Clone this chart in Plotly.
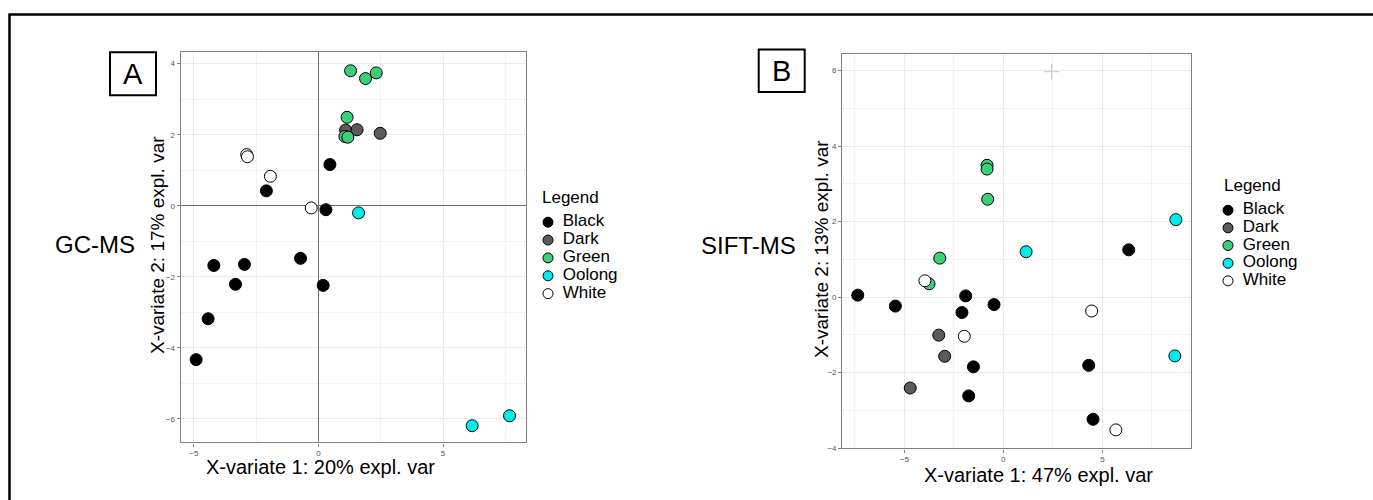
import plotly.graph_objects as go

W, H = 1373, 500

categories = ["Black", "Dark", "Green", "Oolong", "White"]
fill_colors = {"Black": "#000000", "Dark": "#5a5a5a", "Green": "#3ccf78",
               "Oolong": "#00eded", "White": "#ffffff"}

# Panel A: GC-MS
a_group = (["Green"] * 6 + ["Dark"] * 3 + ["White"] * 4 + ["Black"] * 10 + ["Oolong"] * 3)
a_x = [1.29, 1.89, 2.32, 1.15, 1.06, 1.18,
       1.09, 1.55, 2.48,
       -2.88, -2.85, -1.93, -0.29,
       -2.09, 0.46, 0.30, -4.20, -2.97, -3.33, -0.72, 0.19, -4.43, -4.91,
       1.61, 6.17, 7.67]
a_y = [3.80, 3.58, 3.74, 2.49, 1.95, 1.93,
       2.13, 2.14, 2.04,
       1.44, 1.38, 0.83, -0.06,
       0.42, 1.16, -0.11, -1.68, -1.65, -2.21, -1.48, -2.24, -3.18, -4.33,
       -0.20, -6.19, -5.91]

# Panel B: SIFT-MS
b_group = (["Black"] * 10 + ["Dark"] * 3 + ["Green"] * 5 + ["Oolong"] * 3 + ["White"] * 4)
b_x = [6.33, -7.35, -5.45, -1.90, -0.47, -2.09, -1.51, 4.31, -1.75, 4.53,
       -3.26, -2.96, -4.70,
       -0.82, -0.82, -0.79, -3.21, -3.75,
       8.71, 1.15, 8.66,
       -3.96, 4.46, -1.97, 5.68]
b_y = [1.25, 0.05, -0.24, 0.03, -0.20, -0.41, -1.85, -1.81, -2.62, -3.24,
       -1.01, -1.57, -2.41,
       3.49, 3.39, 2.59, 1.03, 0.35,
       2.05, 1.20, -1.56,
       0.43, -0.37, -1.04, -3.52]
b_cross_x = [2.44]
b_cross_y = [5.97]

a_xticks = [-5, 0, 5]
a_yticks = [-6, -4, -2, 0, 2, 4]
b_xticks = [-5, 0, 5]
b_yticks = [-4, -2, 0, 2, 4, 6]

a_xtitle = "X-variate 1: 20% expl. var"
a_ytitle = "X-variate 2: 17% expl. var"
b_xtitle = "X-variate 1: 47% expl. var"
b_ytitle = "X-variate 2: 13% expl. var"
legend_title = "Legend"

FONT = "Liberation Sans, Arial, sans-serif"

fig = go.Figure()


def px(x):
    return x / W


def py(y):
    return 1 - y / H


def add_panel(xs, ys, groups, xa, ya):
    for cat in categories:
        pts = [(x, y) for x, y, g in zip(xs, ys, groups) if g == cat]
        fig.add_trace(go.Scatter(
            x=[p[0] for p in pts], y=[p[1] for p in pts], mode="markers",
            xaxis=xa, yaxis=ya, showlegend=False, name=cat,
            marker=dict(size=12, color=fill_colors[cat],
                        line=dict(color="#000000", width=1)),
            hoverinfo="skip"))


def add_legend(xa, ya):
    idx = list(range(len(categories)))
    zeros = [0] * len(categories)
    # legend keys
    fig.add_trace(go.Scatter(
        x=zeros, y=idx, mode="markers",
        xaxis=xa, yaxis=ya, showlegend=False, hoverinfo="skip", cliponaxis=False,
        marker=dict(size=10, color=[fill_colors[c] for c in categories],
                    line=dict(color="#000000", width=1))))
    # legend labels (transparent wide marker sets the label offset)
    fig.add_trace(go.Scatter(
        x=zeros, y=idx, mode="markers+text", text=categories, textposition="middle right",
        textfont=dict(size=17, color="#000000", family=FONT),
        xaxis=xa, yaxis=ya, showlegend=False, hoverinfo="skip", cliponaxis=False,
        marker=dict(size=22, color="rgba(0,0,0,0)", line=dict(width=0))))


add_panel(a_x, a_y, a_group, "x", "y")
add_panel(b_x, b_y, b_group, "x2", "y2")
fig.add_trace(go.Scatter(x=b_cross_x, y=b_cross_y, mode="markers", xaxis="x2", yaxis="y2",
                         showlegend=False, hoverinfo="skip",
                         marker=dict(symbol="cross-thin", size=11,
                                     line=dict(color="#c8c8c8", width=1))))
add_legend("x3", "y3")
add_legend("x4", "y4")

axis_common = dict(showline=True, mirror=True, linecolor="#808080", linewidth=1.3,
                   showgrid=True, gridcolor="#ebebeb", gridwidth=1,
                   ticks="outside", ticklen=3, tickcolor="#808080",
                   tickfont=dict(size=8, color="#555555", family=FONT))
hidden = dict(visible=False, fixedrange=True)

fig.update_layout(
    width=W, height=H,
    margin=dict(l=0, r=0, t=0, b=0),
    paper_bgcolor="white", plot_bgcolor="white",
    font=dict(family=FONT, color="#000000"),
    showlegend=False,
    xaxis=dict(domain=[px(180.7), px(525.7)], range=[-5.53, 8.32], tickvals=a_xticks,
               minor=dict(dtick=2.5, tick0=0, showgrid=True, gridcolor="#f2f2f2", ticks=""),
               zeroline=True, zerolinecolor="#6e6e6e", zerolinewidth=1.2, **axis_common),
    yaxis=dict(domain=[py(446), py(52.7)], range=[-6.66, 4.32], tickvals=a_yticks,
               minor=dict(dtick=1, tick0=0, showgrid=True, gridcolor="#f2f2f2", ticks=""),
               zeroline=True, zerolinecolor="#6e6e6e", zerolinewidth=1.2, **axis_common),
    xaxis2=dict(domain=[px(842.3), px(1191.3)], range=[-8.13, 9.49], tickvals=b_xticks,
                minor=dict(dtick=2.5, tick0=0, showgrid=True, gridcolor="#f2f2f2", ticks=""),
                zeroline=False, anchor="y2", **axis_common),
    yaxis2=dict(domain=[py(452), py(54)], range=[-4.01, 6.45], tickvals=b_yticks,
                minor=dict(dtick=1, tick0=0, showgrid=True, gridcolor="#f2f2f2", ticks=""),
                zeroline=False, anchor="x2", **axis_common),
    # legend areas (hidden axes)
    xaxis3=dict(domain=[px(543), px(553)], range=[-1, 1], anchor="y3", **hidden),
    yaxis3=dict(domain=[py(305), py(215)], range=[4.5, -0.5], anchor="x3", **hidden),
    xaxis4=dict(domain=[px(1223), px(1233)], range=[-1, 1], anchor="y4", **hidden),
    yaxis4=dict(domain=[py(292), py(203)], range=[4.5, -0.5], anchor="x4", **hidden),
)

shapes = [
    # outer frame
    dict(type="rect", xref="paper", yref="paper", x0=px(9.5), x1=1.05, y0=-0.05, y1=py(14.5),
         line=dict(color="#000000", width=2.5)),
    # label boxes
    dict(type="rect", xref="paper", yref="paper", x0=px(110), x1=px(156), y0=py(96), y1=py(52.7),
         line=dict(color="#000000", width=2)),
    dict(type="rect", xref="paper", yref="paper", x0=px(758.7), x1=px(804.7), y0=py(92.7), y1=py(50),
         line=dict(color="#000000", width=2)),
]
fig.update_layout(shapes=shapes)

ann = [
    dict(text="A", x=px(133), y=py(74.5), font=dict(size=29)),
    dict(text="B", x=px(781.7), y=py(71.5), font=dict(size=29)),
    dict(text="GC-MS", x=px(95), y=py(246), font=dict(size=24)),
    dict(text="SIFT-MS", x=px(748), y=py(247), font=dict(size=24)),
    dict(text=a_xtitle, x=px(320), y=py(471), font=dict(size=20)),
    dict(text=a_ytitle, x=px(157), y=py(247), font=dict(size=19), textangle=-90),
    dict(text=b_xtitle, x=px(1038), y=py(479), font=dict(size=20)),
    dict(text=b_ytitle, x=px(822), y=py(251), font=dict(size=19), textangle=-90),
    dict(text=legend_title, x=px(540), y=py(199), font=dict(size=17), xanchor="left"),
    dict(text=legend_title, x=px(1222), y=py(187), font=dict(size=17), xanchor="left"),
]
for a in ann:
    a.setdefault("xanchor", "center")
    a.update(xref="paper", yref="paper", showarrow=False, yanchor="middle")
fig.update_layout(annotations=ann)

post = ("document.body.style.margin='0px';document.body.style.overflow='hidden';"
        "var d=document.getElementById('{plot_id}');"
        "d.style.position='fixed';d.style.top='0px';d.style.left='0px';")
fig.write_html("out.html", config={"displayModeBar": False}, post_script=post)
